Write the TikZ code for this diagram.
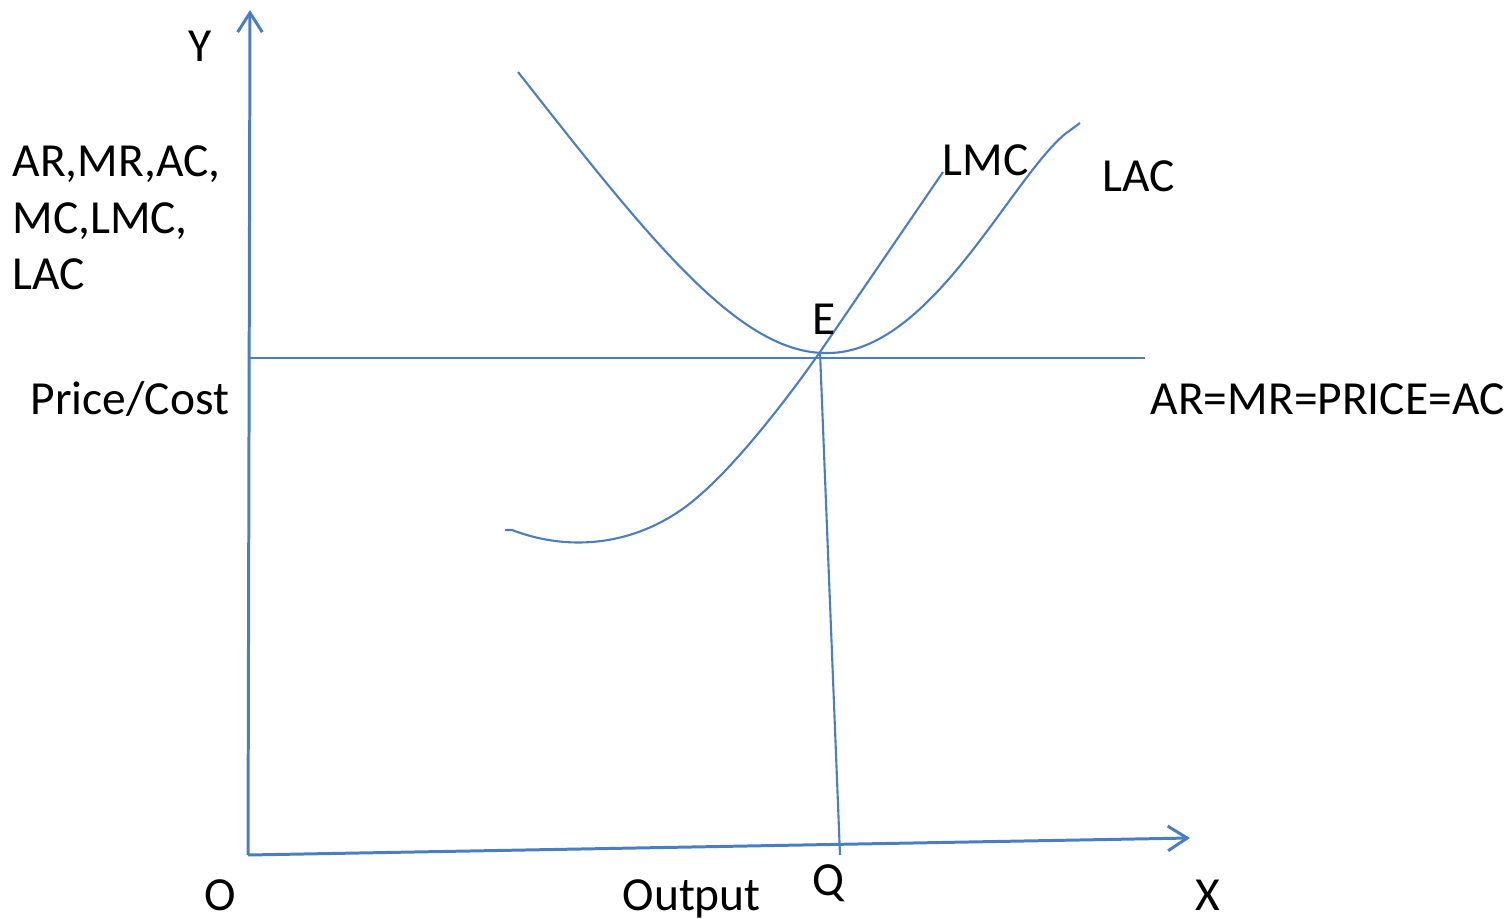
\documentclass[tikz,border=0pt]{standalone}
\usepackage{fontspec}
\setmainfont{Carlito}
\usepackage{tikz}
\usetikzlibrary{calc,positioning,arrows.meta}
\usepackage{xcolor}
\definecolor{curveblue}{HTML}{4A7EC0}
\definecolor{labelblack}{HTML}{000000}

\begin{document}
\begin{tikzpicture}[
      x=0.01cm, y=-0.01cm,
      every node/.style={font=\fontsize{13.5}{16.2}\selectfont, text=labelblack, inner sep=0pt},
      axisline/.style={draw=curveblue, line width=0.85pt, -{Straight Barb[length=5.5pt, width=7pt, line width=0.85pt]}},
      costcurve/.style={draw=curveblue, line width=0.6pt},
      guide/.style={draw=curveblue, line width=0.6pt}
    ]
      \useasboundingbox (0,0) rectangle (1510,919);
      % axes
      \coordinate (origin) at (248,855);
      \coordinate (ytip) at (250,10);
      \coordinate (xtip) at (1190,838);
      \draw[axisline] (origin) -- (ytip);
      \draw[axisline] (origin) -- (xtip);
      % price line and output drop
      \coordinate (pleft) at (248,358);
      \coordinate (pright) at (1145,358);
      \coordinate (eq) at (820,352);
      \coordinate (qfoot) at (840,855);
      \draw[guide] (pleft) -- (pright);
      \draw[guide] (eq) -- (qfoot);
      % LAC
      \coordinate (lacstart) at (518,72);
      \coordinate (lacmin) at (828,353);
      \coordinate (lacend) at (1080,123);
      \draw[costcurve] (lacstart) .. controls (650,240) and (740,355) .. (lacmin)
        .. controls (930,353) and (1010,180) .. (1065,134) -- (lacend);
      % LMC
      \coordinate (lmcstart) at (505,530);
      \coordinate (lmcend) at (943,172);
      \draw[costcurve] (lmcstart) -- (512,530) .. controls (580,556) and (650,540) .. (700,495)
        .. controls (735,465) and (783,405) .. (eq) -- (lmcend);
      % labels
      \node[anchor=base] (ylab) at (200,62) {Y};
      \node[anchor=base west, align=left] (yaxislab) at (12,290) {AR,MR,AC,\\MC,LMC,\\LAC};
      \node[anchor=base west] (pclab) at (30,415) {Price/Cost};
      \node[anchor=base west] (arlab) at (1150,415) {AR=MR=PRICE=AC};
      \node[anchor=base west] (lmclab) at (942,176) {LMC};
      \node[anchor=base west] (laclab) at (1102,192) {LAC};
      \node[anchor=base] (elab) at (824,335) {E};
      \node[anchor=base] (olab) at (220,910) {O};
      \node[anchor=base west] (outlab) at (622,910) {Output};
      \node[anchor=base] (qlab) at (828,895) {Q};
      \node[anchor=base] (xlab) at (1208,910) {X};
    \end{tikzpicture}
\end{document}
